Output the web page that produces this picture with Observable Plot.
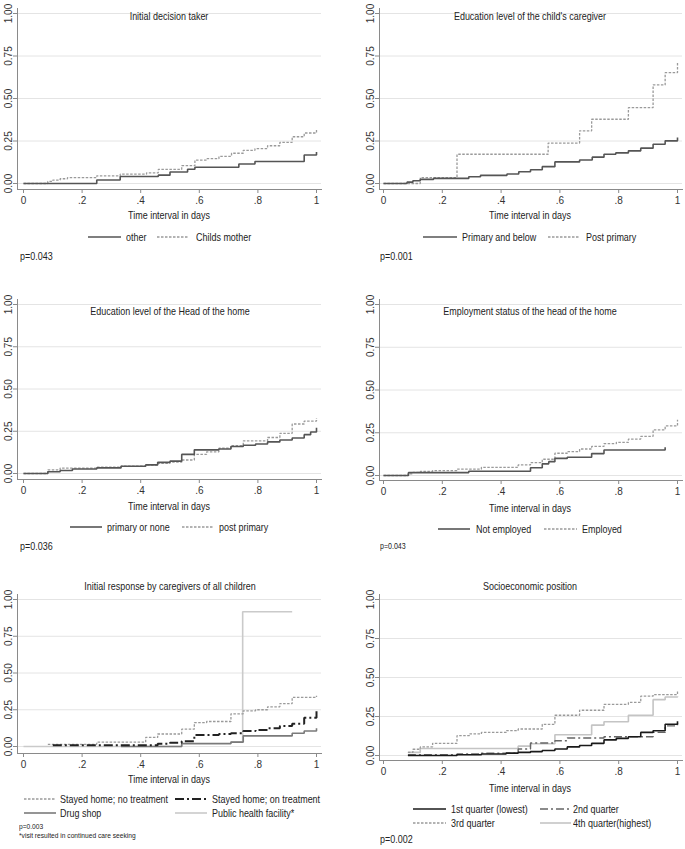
<!DOCTYPE html>
<html>
<head>
<meta charset="utf-8">
<script src="https://cdn.jsdelivr.net/npm/d3@7"></script>
<script src="https://cdn.jsdelivr.net/npm/@observablehq/plot@0.6"></script>
<style>
  html, body { margin: 0; padding: 0; background: #fff; }
  #root { position: relative; width: 685px; height: 849px; overflow: hidden; background: #fff; }
  .t { position: absolute; white-space: nowrap; color: #222; line-height: 1;
       font-family: "Liberation Sans", Arial, sans-serif; }
  svg.panel { position: absolute; overflow: visible; }
</style>
</head>
<body>
<div id="root"></div>
<script>
const FONT = '"Liberation Sans", Arial, sans-serif';
const SQUEEZE = 0.83;

// ---------- shared ticks ----------
const xTicks = [0, 0.2, 0.4, 0.6, 0.8, 1];
const yTicks = [0, 0.25, 0.5, 0.75, 1];

// ---------- Panel 1: Initial decision taker ----------
const p1Title = "Initial decision taker";
const p1Names = ["other", "Childs mother"];
const p1OtherT = [0, 0.25, 0.33, 0.46, 0.5, 0.56, 0.585, 0.735, 0.79, 0.958, 1.0];
const p1OtherS = [0, 0.021, 0.041, 0.049, 0.068, 0.084, 0.096, 0.115, 0.129, 0.168, 0.185];
const p1MotherT = [0, 0.083, 0.1, 0.125, 0.15, 0.25, 0.33, 0.42, 0.46, 0.54, 0.585, 0.625, 0.667, 0.71, 0.75, 0.79, 0.833, 0.875, 0.917, 0.958, 1.0];
const p1MotherS = [0, 0.012, 0.02, 0.028, 0.034, 0.045, 0.055, 0.063, 0.083, 0.105, 0.138, 0.146, 0.16, 0.178, 0.195, 0.205, 0.222, 0.242, 0.275, 0.297, 0.32];
const p1P = "p=0.043";

// ---------- Panel 2: Education level of the child's caregiver ----------
const p2Title = "Education level of the child's caregiver";
const p2Names = ["Primary and below", "Post primary"];
const p2PrimT = [0, 0.08, 0.1, 0.125, 0.17, 0.29, 0.33, 0.42, 0.46, 0.5, 0.54, 0.583, 0.667, 0.71, 0.75, 0.79, 0.833, 0.875, 0.917, 0.958, 1.0];
const p2PrimS = [0, 0.008, 0.016, 0.024, 0.03, 0.04, 0.048, 0.056, 0.069, 0.081, 0.099, 0.127, 0.138, 0.155, 0.172, 0.18, 0.192, 0.208, 0.231, 0.251, 0.27];
const p2PostT = [0, 0.125, 0.25, 0.56, 0.667, 0.708, 0.833, 0.917, 0.958, 1.0];
const p2PostS = [0, 0.035, 0.172, 0.238, 0.31, 0.378, 0.446, 0.58, 0.652, 0.718];
const p2P = "p=0.001";

// ---------- Panel 3: Education level of the Head of the home ----------
const p3Title = "Education level of the Head of the home";
const p3Names = ["primary or none", "post primary"];
const p3PrimT = [0, 0.083, 0.125, 0.167, 0.25, 0.333, 0.417, 0.458, 0.5, 0.54, 0.583, 0.667, 0.708, 0.75, 0.792, 0.833, 0.875, 0.917, 0.958, 0.98, 1.0];
const p3PrimS = [0, 0.01, 0.018, 0.027, 0.033, 0.043, 0.051, 0.066, 0.073, 0.113, 0.14, 0.145, 0.16, 0.167, 0.175, 0.187, 0.198, 0.21, 0.23, 0.246, 0.27];
const p3PostT = [0, 0.083, 0.125, 0.25, 0.333, 0.417, 0.458, 0.5, 0.54, 0.583, 0.625, 0.667, 0.708, 0.75, 0.833, 0.875, 0.917, 0.958, 1.0];
const p3PostS = [0, 0.022, 0.032, 0.038, 0.044, 0.05, 0.06, 0.067, 0.08, 0.113, 0.128, 0.15, 0.165, 0.193, 0.213, 0.238, 0.293, 0.31, 0.328];
const p3P = "p=0.036";

// ---------- Panel 4: Employment status of the head of the home ----------
const p4Title = "Employment status of the head of the home";
const p4Names = ["Not employed", "Employed"];
const p4NotT = [0, 0.085, 0.29, 0.5, 0.54, 0.562, 0.583, 0.625, 0.708, 0.75, 0.958];
const p4NotS = [0, 0.017, 0.025, 0.045, 0.068, 0.081, 0.1, 0.107, 0.128, 0.149, 0.165];
const p4EmpT = [0, 0.083, 0.1, 0.125, 0.167, 0.25, 0.333, 0.458, 0.5, 0.54, 0.583, 0.625, 0.667, 0.708, 0.75, 0.792, 0.833, 0.875, 0.917, 0.958, 1.0];
const p4EmpS = [0, 0.01, 0.018, 0.024, 0.029, 0.037, 0.048, 0.062, 0.075, 0.095, 0.13, 0.14, 0.155, 0.17, 0.186, 0.194, 0.213, 0.229, 0.267, 0.29, 0.326];
const p4P = "p=0.043";

// ---------- Panel 5: Initial response by caregivers of all children ----------
const p5Title = "Initial response by caregivers of all children";
const p5Names = ["Stayed home; no treatment", "Stayed home; on treatment", "Drug shop", "Public health facility*"];
const p5NoTrtT = [0.083, 0.25, 0.417, 0.458, 0.54, 0.583, 0.625, 0.708, 0.75, 0.792, 0.833, 0.875, 0.917, 1.0];
const p5NoTrtS = [0.015, 0.03, 0.062, 0.085, 0.118, 0.162, 0.17, 0.222, 0.243, 0.25, 0.27, 0.292, 0.334, 0.345];
const p5OnTrtT = [0.1, 0.458, 0.5, 0.54, 0.583, 0.667, 0.708, 0.75, 0.792, 0.833, 0.875, 0.917, 0.958, 1.0];
const p5OnTrtS = [0.008, 0.018, 0.026, 0.035, 0.078, 0.085, 0.09, 0.105, 0.112, 0.125, 0.14, 0.155, 0.195, 0.24];
const p5DrugT = [0.333, 0.54, 0.708, 0.75, 0.917, 0.958, 1.0];
const p5DrugS = [0, 0.02, 0.03, 0.072, 0.09, 0.105, 0.125];
const p5PubT = [0, 0.54, 0.708, 0.748, 0.917];
const p5PubS = [0, 0.018, 0.03, 0.917, 0.917];
const p5P = "p=0.003";
const p5Note = "*visit resulted in continued care seeking";

// ---------- Panel 6: Socioeconomic position ----------
const p6Title = "Socioeconomic position";
const p6Names = ["1st quarter (lowest)", "2nd quarter", "3rd quarter", "4th quarter(highest)"];
const p6Q1T = [0.083, 0.25, 0.333, 0.417, 0.458, 0.5, 0.54, 0.583, 0.625, 0.667, 0.708, 0.75, 0.792, 0.833, 0.875, 0.917, 0.958, 1.0];
const p6Q1S = [0, 0.005, 0.01, 0.015, 0.02, 0.025, 0.032, 0.042, 0.055, 0.064, 0.078, 0.1, 0.11, 0.12, 0.148, 0.159, 0.2, 0.22];
const p6Q2T = [0.083, 0.25, 0.333, 0.458, 0.5, 0.583, 0.625, 0.75, 0.917, 0.958, 1.0];
const p6Q2S = [0.005, 0.01, 0.015, 0.042, 0.08, 0.095, 0.112, 0.12, 0.148, 0.19, 0.21];
const p6Q3T = [0.083, 0.1, 0.125, 0.167, 0.25, 0.292, 0.333, 0.417, 0.458, 0.54, 0.583, 0.667, 0.75, 0.833, 0.875, 0.917, 1.0];
const p6Q3S = [0.02, 0.04, 0.055, 0.078, 0.127, 0.138, 0.148, 0.159, 0.17, 0.2, 0.258, 0.29, 0.328, 0.34, 0.38, 0.39, 0.41];
const p6Q4T = [0.083, 0.125, 0.458, 0.5, 0.583, 0.708, 0.75, 0.833, 0.917, 0.958, 1.0];
const p6Q4S = [0.02, 0.045, 0.06, 0.075, 0.133, 0.195, 0.216, 0.258, 0.358, 0.375, 0.38];
const p6P = "p=0.002";

// ---------- styles ----------
const ST = {
  solidDark: {stroke: "#555", strokeWidth: 1.6},
  dotted: {stroke: "#9a9a9a", strokeWidth: 1.3, strokeDasharray: "2.5,1.5"},
  onTrt: {stroke: "#222", strokeWidth: 2, strokeDasharray: "9,3,2,3"},
  drug: {stroke: "#7a7a7a", strokeWidth: 1.6},
  pub: {stroke: "#cacaca", strokeWidth: 1.6},
  q1: {stroke: "#1a1a1a", strokeWidth: 1.6},
  q2: {stroke: "#666", strokeWidth: 1.4, strokeDasharray: "8,3,2,3"},
  q4: {stroke: "#c4c4c4", strokeWidth: 1.6}
};

const root = document.getElementById("root");
const xFmt = d => d === 0 ? "0" : d === 1 ? "1" : String(d).replace(/^0/, "");

function km(T, S, style) {
  return Plot.line(T, {x: T, y: S, curve: "step-after", strokeLinecap: "butt", strokeLinejoin: "miter", ...style});
}

function panel(o, lines) {
  const svg = Plot.plot({
    width: o.width, height: o.height,
    marginLeft: o.mL, marginRight: o.mR, marginTop: o.mT, marginBottom: o.mB,
    insetLeft: o.iL, insetRight: o.iR, insetTop: o.iT, insetBottom: o.iB,
    x: {domain: [0, 1]}, y: {domain: [0, 1]},
    style: {fontFamily: FONT, fontSize: "10px", color: "#333", background: "transparent", overflow: "visible"},
    marks: [
      Plot.gridY(yTicks, {stroke: "#e4e4e4", strokeOpacity: 1}),
      Plot.frame({anchor: "left", stroke: "#8a8a8a"}),
      Plot.frame({anchor: "bottom", stroke: "#8a8a8a"}),
      Plot.axisX(xTicks, {tickFormat: xFmt, tickSize: 4, tickPadding: 3, label: null, stroke: "#8a8a8a", fill: "#333"}),
      Plot.axisY(yTicks, {tickFormat: d3.format(".2f"), tickSize: 4, tickPadding: 2, tickRotate: -90, label: null, stroke: "#8a8a8a", fill: "#333"}),
      ...lines
    ]
  });
  svg.classList.add("panel");
  svg.style.left = o.left + "px";
  svg.style.top = o.top + "px";
  root.appendChild(svg);
}

function text(x, y, str, {size = 10.8, anchor = "start"} = {}) {
  const d = document.createElement("div");
  d.className = "t";
  d.textContent = str;
  d.style.fontSize = size + "px";
  d.style.left = x + "px";
  d.style.top = (y - size * 0.5) + "px";
  if (anchor === "middle") {
    d.style.transformOrigin = "center center";
    d.style.transform = `translateX(-50%) scaleX(${SQUEEZE})`;
  } else {
    d.style.transformOrigin = "left center";
    d.style.transform = `scaleX(${SQUEEZE})`;
  }
  root.appendChild(d);
}

function swatch(x1, x2, y, style) {
  const ns = "http://www.w3.org/2000/svg";
  const s = document.createElementNS(ns, "svg");
  s.setAttribute("width", x2 - x1);
  s.setAttribute("height", 6);
  s.style.position = "absolute";
  s.style.left = x1 + "px";
  s.style.top = (y - 3) + "px";
  const l = document.createElementNS(ns, "line");
  l.setAttribute("x1", 0); l.setAttribute("x2", x2 - x1);
  l.setAttribute("y1", 3); l.setAttribute("y2", 3);
  l.setAttribute("stroke", style.stroke);
  l.setAttribute("stroke-width", style.strokeWidth);
  if (style.strokeDasharray) l.setAttribute("stroke-dasharray", style.strokeDasharray);
  s.appendChild(l);
  root.appendChild(s);
}

const AXT = "Time interval in days";

// Panel 1
panel({left: 0, top: 0, width: 330, height: 230, mL: 17, mR: 9, mT: 8, mB: 41, iL: 6, iR: 5, iT: 5, iB: 6},
  [km(p1MotherT, p1MotherS, ST.dotted), km(p1OtherT, p1OtherS, ST.solidDark)]);
text(169, 16, p1Title, {anchor: "middle"});
text(169, 215, AXT, {anchor: "middle"});
swatch(88, 121, 237, ST.solidDark); text(126, 237, p1Names[0]);
swatch(157, 189, 237, ST.dotted); text(196, 237, p1Names[1]);
text(20, 256, p1P);

// Panel 2
panel({left: 340, top: 0, width: 345, height: 230, mL: 39, mR: 3, mT: 8, mB: 41, iL: 4, iR: 5, iT: 5, iB: 6},
  [km(p2PostT, p2PostS, ST.dotted), km(p2PrimT, p2PrimS, ST.solidDark)]);
text(530, 16, p2Title, {anchor: "middle"});
text(530, 215, AXT, {anchor: "middle"});
swatch(423, 457, 237, ST.solidDark); text(462, 237, p2Names[0]);
swatch(548, 580, 237, ST.dotted); text(586, 237, p2Names[1]);
text(380, 256, p2P);

// Panel 3
panel({left: 0, top: 280, width: 330, height: 240, mL: 17, mR: 9, mT: 19, mB: 41, iL: 6, iR: 5, iT: 5, iB: 6},
  [km(p3PostT, p3PostS, ST.dotted), km(p3PrimT, p3PrimS, ST.solidDark)]);
text(170, 311, p3Title, {anchor: "middle"});
text(169, 506, AXT, {anchor: "middle"});
swatch(70, 102, 527, ST.solidDark); text(107, 527, p3Names[0]);
swatch(182, 213, 527, ST.dotted); text(219, 527, p3Names[1]);
text(20, 546, p3P);

// Panel 4
panel({left: 340, top: 280, width: 345, height: 241, mL: 39, mR: 3, mT: 19, mB: 41, iL: 4, iR: 5, iT: 5, iB: 5},
  [km(p4EmpT, p4EmpS, ST.dotted), km(p4NotT, p4NotS, ST.solidDark)]);
text(530, 311, p4Title, {anchor: "middle"});
text(530, 508, AXT, {anchor: "middle"});
swatch(438, 470, 529, ST.solidDark); text(476, 529, p4Names[0]);
swatch(544, 577, 529, ST.dotted); text(582, 529, p4Names[1]);
text(380, 546, p4P, {size: 8.5});

// Panel 5
panel({left: 0, top: 560, width: 330, height: 234, mL: 17, mR: 9, mT: 34, mB: 41, iL: 6, iR: 5, iT: 5, iB: 7},
  [km(p5PubT, p5PubS, ST.pub), km(p5DrugT, p5DrugS, ST.drug), km(p5NoTrtT, p5NoTrtS, ST.dotted), km(p5OnTrtT, p5OnTrtS, ST.onTrt)]);
text(170, 586, p5Title, {anchor: "middle"});
text(169, 779, AXT, {anchor: "middle"});
swatch(24, 56, 799, ST.dotted); text(60, 799, p5Names[0]);
swatch(175, 207, 799, ST.onTrt); text(212, 799, p5Names[1]);
swatch(24, 56, 813, ST.drug); text(60, 813, p5Names[2]);
swatch(175, 207, 813, ST.pub); text(212, 813, p5Names[3]);
text(19, 827, p5P, {size: 8});
text(19, 836, p5Note, {size: 8});

// Panel 6
panel({left: 340, top: 560, width: 345, height: 241, mL: 39, mR: 3, mT: 34, mB: 41, iL: 4, iR: 5, iT: 5, iB: 5},
  [km(p6Q4T, p6Q4S, ST.q4), km(p6Q3T, p6Q3S, ST.dotted), km(p6Q2T, p6Q2S, ST.q2), km(p6Q1T, p6Q1S, ST.q1)]);
text(530, 586, p6Title, {anchor: "middle"});
text(530, 788, AXT, {anchor: "middle"});
swatch(413, 446, 809, ST.q1); text(451, 809, p6Names[0]);
swatch(540, 570, 809, ST.q2); text(573, 809, p6Names[1]);
swatch(413, 446, 823, ST.dotted); text(451, 823, p6Names[2]);
swatch(540, 571, 823, ST.q4); text(573, 823, p6Names[3]);
text(380, 839, p6P);
</script>
</body>
</html>
